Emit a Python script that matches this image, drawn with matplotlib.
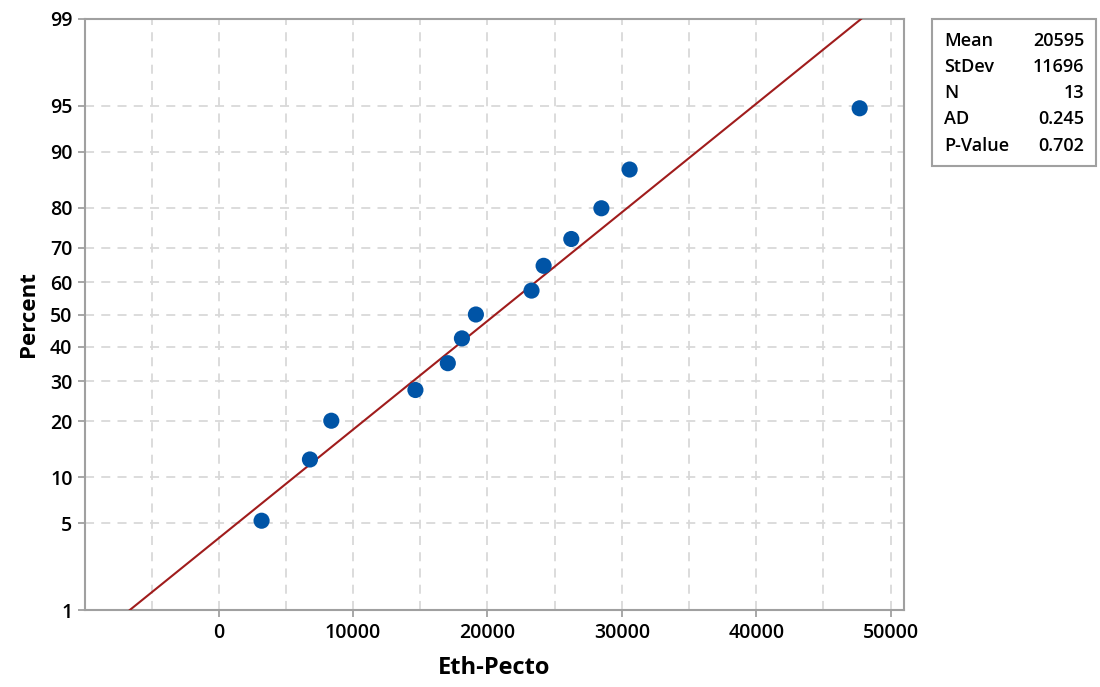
import numpy as np
import matplotlib
matplotlib.use("Agg")
import matplotlib.pyplot as plt
from matplotlib.patches import Rectangle
from statistics import NormalDist

# ---- data ----
values = [3190, 6790, 8380, 14640, 17050, 18100, 19140, 23280, 24180, 26240, 28480, 30580, 47700]
percents = [(i - 0.3) / (len(values) + 0.4) * 100 for i in range(1, len(values) + 1)]
stat_names = ["Mean", "StDev", "N", "AD", "P-Value"]
stat_values = ["20595", "11696", "13", "0.245", "0.702"]
fit_mean = 20595
fit_sd = 11696
y_ticks = [1, 5, 10, 20, 30, 40, 50, 60, 70, 80, 90, 95, 99]
x_ticks = [0, 10000, 20000, 30000, 40000, 50000]
x_label = "Eth-Pecto"
y_label = "Percent"

plt.rcParams['font.family'] = ['Open Sans', 'DejaVu Sans']

nd = NormalDist()

def fwd(p):
    p = np.clip(np.asarray(p, dtype=float), 1e-6, 100 - 1e-6)
    return np.array([nd.inv_cdf(v / 100.0) for v in np.ravel(p)]).reshape(np.shape(p))

def inv(z):
    z = np.asarray(z, dtype=float)
    return np.array([nd.cdf(v) * 100.0 for v in np.ravel(z)]).reshape(np.shape(z))

W, H = 1100, 687
fig = plt.figure(figsize=(11, 6.87), dpi=100)
ax = fig.add_axes([85 / W, 1 - 610 / H, (904 - 85) / W, (610 - 19) / H])
ax.set_yscale('function', functions=(fwd, inv))

# fitted line
pline = np.linspace(1, 99, 200)
zline = np.array([nd.inv_cdf(p / 100) for p in pline])
xline = fit_mean + fit_sd * zline
ax.plot(xline, pline, color='#A01C1C', lw=1.5, zorder=3)

ax.scatter(values, percents, s=135, color='#0054A6', zorder=4, edgecolors='none')

ax.set_xlim(-9950, 51000)
ax.set_ylim(1, 99)
ax.set_yticks(y_ticks)
ax.set_yticklabels([str(t) for t in y_ticks])
ax.set_xticks(x_ticks)
ax.set_xticklabels([str(t) for t in x_ticks])
ax.set_xticks(np.arange(-5000, 51000, 10000), minor=True)
ax.yaxis.set_minor_locator(matplotlib.ticker.NullLocator())

for sp in ax.spines.values():
    sp.set_color('#A0A0A0')
    sp.set_linewidth(1.5)

ax.grid(True, which='both', axis='x', color='#D9D9D9', linestyle=(0, (5, 4)), lw=1.3)
ax.grid(True, which='major', axis='y', color='#D9D9D9', linestyle=(0, (5, 4)), lw=1.3)
ax.set_axisbelow(True)

ax.tick_params(axis='both', which='major', length=5, width=1.3, color='#A0A0A0',
               labelsize=14, labelcolor='#000000', pad=4)
ax.tick_params(axis='x', which='minor', length=0)
for lbl in ax.get_xticklabels() + ax.get_yticklabels():
    lbl.set_fontweight('semibold')

ax.set_xlabel(x_label, fontsize=17, fontweight='bold', labelpad=10)
ax.set_ylabel(y_label, fontsize=16, fontweight='bold', labelpad=8)

# stats box
box = Rectangle((932 / W, 1 - 166 / H), (1096 - 932) / W, (166 - 19) / H,
                transform=fig.transFigure, facecolor='white', edgecolor='#A0A0A0', lw=1.5)
fig.patches.append(box)
row_y = [41, 67, 93, 119, 146]
for name, val, yy in zip(stat_names, stat_values, row_y):
    fig.text(944 / W, 1 - yy / H, name, fontsize=13, fontweight='semibold',
             va='center', ha='left', color='#000000')
    fig.text(1084 / W, 1 - yy / H, val, fontsize=13, fontweight='semibold',
             va='center', ha='right', color='#000000')

fig.savefig('out.png', dpi=100)
